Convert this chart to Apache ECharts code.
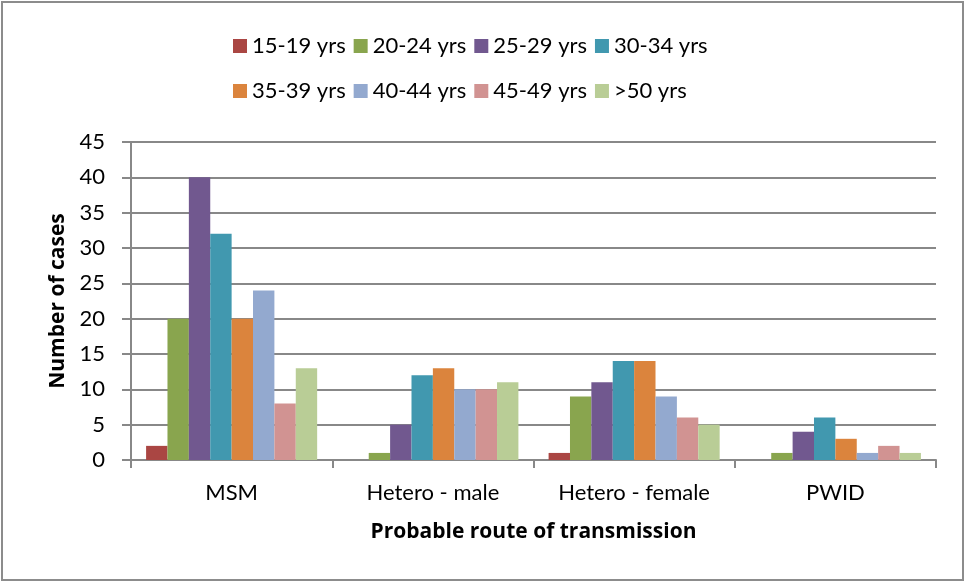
<!DOCTYPE html>
<html>
<head>
<meta charset="utf-8">
<script src="https://cdn.jsdelivr.net/npm/echarts@6/dist/echarts.min.js"></script>
<style>
  html, body { margin: 0; padding: 0; background: #fff; }
  #frame { position: absolute; left: 1px; top: 1px; width: 959px; height: 576px; border: 2px solid #8c8c8c; }
  #chart { position: absolute; left: 0; top: 0; width: 965px; height: 583px; }
</style>
</head>
<body>
<div id="frame"></div>
<div id="chart"></div>
<script>
// Routes of transmission (x categories)
const routes = ['MSM', 'Hetero - male', 'Hetero - female', 'PWID'];

// Age groups (series names)
const ageGroups = ['15-19 yrs', '20-24 yrs', '25-29 yrs', '30-34 yrs',
                   '35-39 yrs', '40-44 yrs', '45-49 yrs', '>50 yrs'];

// Number of cases per age group, one value per route
const age15to19 = [2, 0, 1, 0];
const age20to24 = [20, 1, 9, 1];
const age25to29 = [40, 5, 11, 4];
const age30to34 = [32, 12, 14, 6];
const age35to39 = [20, 13, 14, 3];
const age40to44 = [24, 10, 9, 1];
const age45to49 = [8, 10, 6, 2];
const age50plus = [13, 11, 5, 1];

const seriesValues = [age15to19, age20to24, age25to29, age30to34,
                      age35to39, age40to44, age45to49, age50plus];

const palette = ['#aa4643', '#89a54e', '#71588f', '#4198af',
                 '#db843d', '#93a9cf', '#d19392', '#b9cd96'];

const FONT = 'Lato, "Liberation Sans", sans-serif';
const BOLD_FONT = '"Open Sans", "Liberation Sans", sans-serif';

const chart = echarts.init(document.getElementById('chart'), null, { renderer: 'canvas' });

const legendCommon = {
  orient: 'horizontal',
  itemWidth: 14,
  itemHeight: 14,
  itemGap: 8,
  icon: 'rect',
  textStyle: { fontFamily: FONT, fontSize: 22, color: '#000', width: 90 },
  selectedMode: false
};

chart.setOption({
  animation: false,
  color: palette,
  legend: [
    Object.assign({}, legendCommon, { left: 228, top: 30, data: ageGroups.slice(0, 4) }),
    Object.assign({}, legendCommon, { left: 228, top: 75, data: ageGroups.slice(4) })
  ],
  grid: { left: 131, right: 29, top: 142, bottom: 123, containLabel: false },
  xAxis: {
    type: 'category',
    data: routes,
    name: 'Probable route of transmission',
    nameLocation: 'middle',
    nameGap: 62,
    nameTextStyle: { fontFamily: BOLD_FONT, fontSize: 21, fontWeight: 'bold', color: '#000' },
    axisLine: { lineStyle: { color: '#888', width: 2 } },
    axisTick: { show: true, length: 8, lineStyle: { color: '#888', width: 2 } },
    axisLabel: { fontFamily: FONT, fontSize: 22, color: '#000', margin: 22 }
  },
  yAxis: {
    type: 'value',
    min: 0,
    max: 45,
    interval: 5,
    name: 'Number of cases',
    nameLocation: 'middle',
    nameGap: 62,
    nameRotate: 90,
    nameTextStyle: { fontFamily: BOLD_FONT, fontSize: 21, fontWeight: 'bold', color: '#000' },
    axisLine: { show: true, lineStyle: { color: '#888', width: 2 } },
    axisTick: { show: true, length: 9, lineStyle: { color: '#888', width: 2 } },
    axisLabel: { fontFamily: FONT, fontSize: 22, color: '#000', margin: 26 },
    splitLine: { show: true, lineStyle: { color: '#888', width: 2 } }
  },
  series: ageGroups.map((name, i) => ({
    name: name,
    type: 'bar',
    data: seriesValues[i],
    barGap: '0%',
    barCategoryGap: '15%',
    itemStyle: { color: palette[i] }
  }))
});
</script>
</body>
</html>
